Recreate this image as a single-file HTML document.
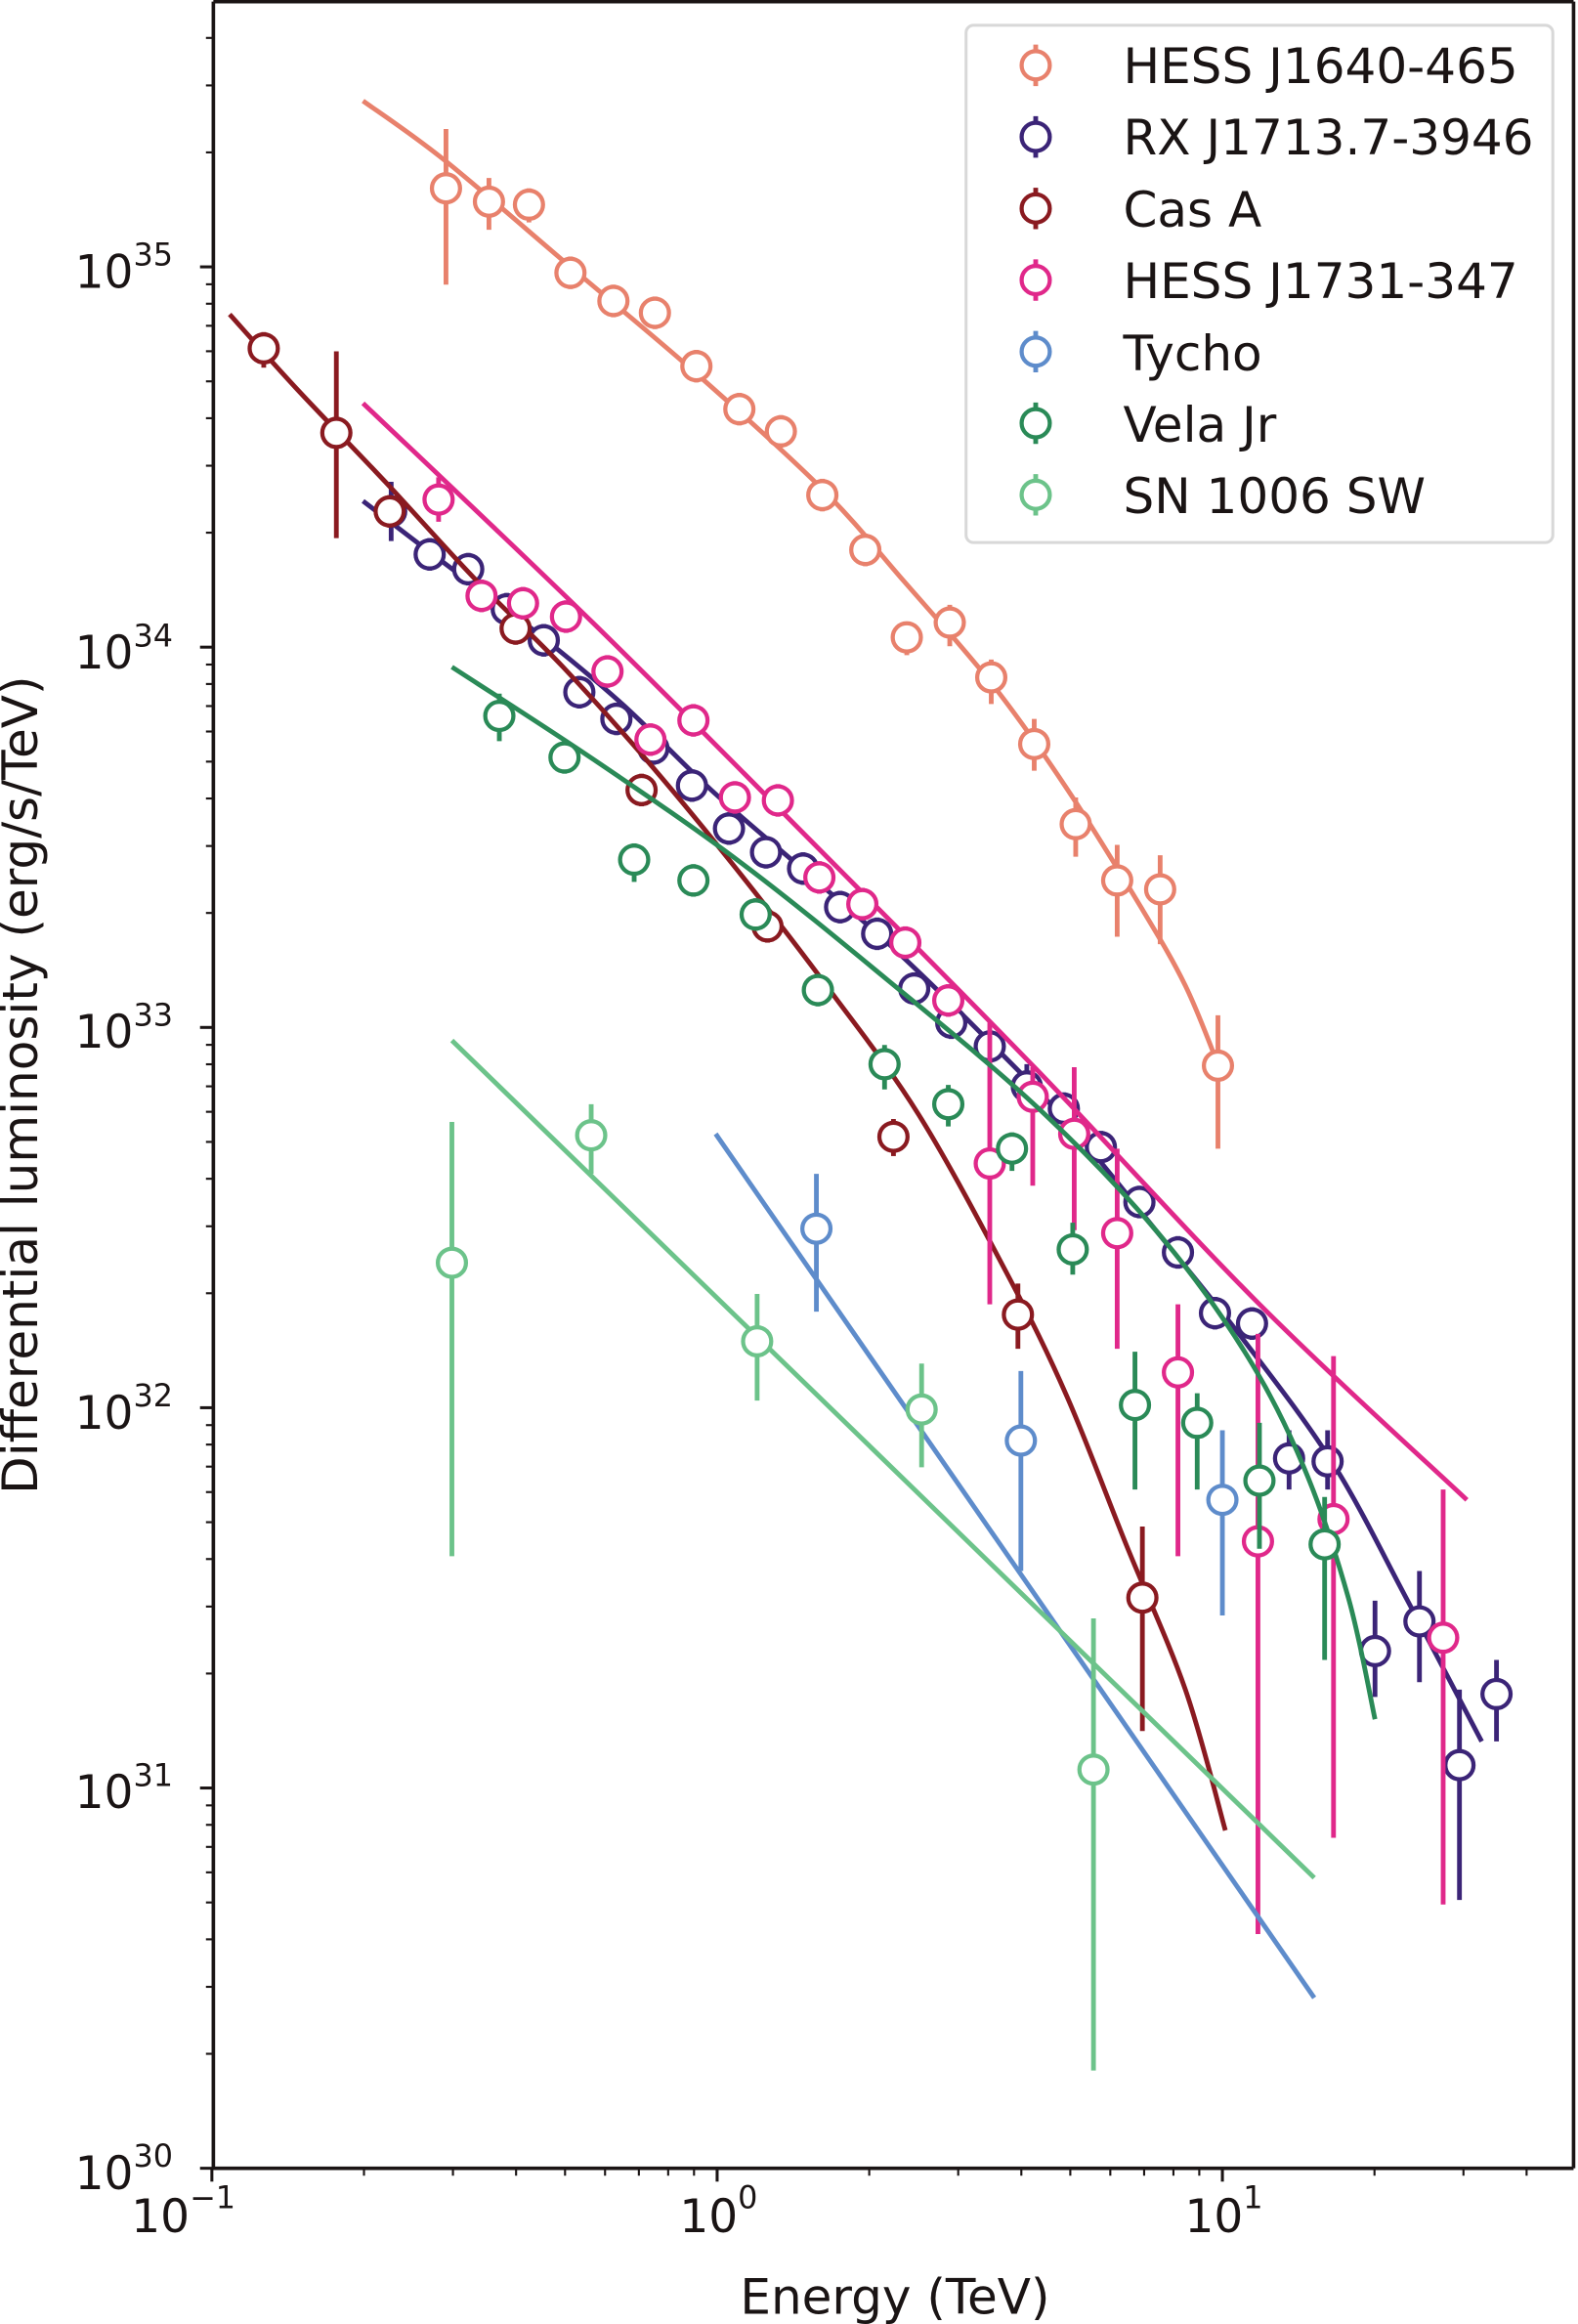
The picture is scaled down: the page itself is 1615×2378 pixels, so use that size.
<!DOCTYPE html>
<html><head><meta charset="utf-8"><style>
html,body{margin:0;padding:0;background:#fff;}
svg{display:block;}
text{font-family:"DejaVu Sans","Liberation Sans",sans-serif;fill:#1a1414;}
</style></head><body>
<svg id="s" width="1615" height="2378" viewBox="0 0 1065 1568" xmlns="http://www.w3.org/2000/svg">
<rect width="1065" height="1568" fill="#fff"/>
<g id="plot"></g>
<g id="axes" stroke="#1a1414" fill="none"></g>
<g font-size="31">
<text x="128" y="1506" text-anchor="end">10</text><text x="128" y="1490" font-size="21">−1</text>
<text x="498" y="1506" text-anchor="end">10</text><text x="498" y="1490" font-size="21">0</text>
<text x="839" y="1506" text-anchor="end">10</text><text x="839" y="1490" font-size="21">1</text>
<text x="90" y="194" text-anchor="end">10</text><text x="90" y="179" font-size="21">35</text>
<text x="90" y="451" text-anchor="end">10</text><text x="90" y="436" font-size="21">34</text>
<text x="90" y="707" text-anchor="end">10</text><text x="90" y="692" font-size="21">33</text>
<text x="90" y="964" text-anchor="end">10</text><text x="90" y="949" font-size="21">32</text>
<text x="90" y="1220" text-anchor="end">10</text><text x="90" y="1205" font-size="21">31</text>
<text x="90" y="1477" text-anchor="end">10</text><text x="90" y="1462" font-size="21">30</text>
</g>
<g font-size="33">
<text x="604" y="1561" text-anchor="middle">Energy (TeV)</text>
<text transform="translate(25,732) rotate(-90)" text-anchor="middle">Differential luminosity (erg/s/TeV)</text>
</g>
<rect x="652" y="17" width="396" height="349" rx="5" fill="#fff" stroke="#d8d8d8" stroke-width="2"/>
<g id="leg"></g>
<g font-size="33">
<text x="758" y="56">HESS J1640-465</text>
<text x="758" y="104">RX J1713.7-3946</text>
<text x="758" y="153">Cas A</text>
<text x="758" y="201">HESS J1731-347</text>
<text x="758" y="250">Tycho</text>
<text x="758" y="298">Vela Jr</text>
<text x="758" y="346">SN 1006 SW</text>
</g>
</svg>
<script>
var NS="http://www.w3.org/2000/svg";
function el(p,t,a){var e=document.createElementNS(NS,t);for(var k in a)e.setAttribute(k,a[k]);p.appendChild(e);return e;}
var plot=document.getElementById('plot'),axes=document.getElementById('axes'),leg=document.getElementById('leg');
var S=[
{c:"#e8816c",curve:[[245,68],[300,108],[385,180],[470,252],[555,330],[610,392],[670,462],[720,532],[770,612],[800,665],[822,718]],
 pts:[[301,127,87,192],[330,136,120,155],[357,138,127,150],[385,184],[414,203],[442,211],[470,247],[499,276],[527,291],[555,334],[584,371],[612,430,420,442],[641,420,408,436],[669,457,445,475],[698,502,485,520],[726,556,538,578],[754,594,570,632],[783,600,577,637],[822,719,685,775]]},
{c:"#3b2477",curve:[[245,338],[300,380],[360,425],[420,475],[480,533],[540,585],[600,637],[660,695],[720,757],[780,830],[840,905],[900,988],[950,1080],[1000,1175]],
 pts:[[264,345,325,365],[290,374],[316,384],[342,411],[367,432],[391,467],[416,485],[441,505],[467,530],[492,559],[517,575],[542,586],[567,612],[592,630],[617,667],[642,690],[668,706],[693,733,718,748],[718,748],[743,774],[769,811],[795,845],[820,886],[845,893],[870,984,965,1005],[896,986,965,1005],[928,1114,1080,1145],[958,1094,1060,1135],[985,1191,1140,1282],[1010,1143,1120,1175]]},
{c:"#8a1a20",curve:[[155,212],[200,262],[260,325],[320,390],[380,450],[440,517],[500,590],[560,668],[620,752],[680,860],[720,942],[760,1042],[800,1140],[827,1235]],
 pts:[[178,235,224,248],[227,292,237,363],[263,345],[348,424],[433,533],[518,625],[603,767,755,780],[687,887,866,910],[771,1078,1030,1168]]},
{c:"#e0288a",curve:[[245,272],[400,420],[550,570],[700,722],[850,880],[990,1012]],
 pts:[[296,337,322,352],[325,402],[353,407],[382,416],[410,453],[439,499],[468,486],[496,538],[525,540],[553,592],[582,610],[611,636],[640,675],[668,785,690,880],[697,740,720,800],[725,765,720,830],[754,832,775,910],[795,926,880,1050],[849,1040,900,1305],[900,1025,915,1240],[974,1105,1005,1285]]},
{c:"#5e8ccb",curve:[[483,765],[887,1348]],pts:[[551,829,792,885],[689,972,925,1060],[825,1012,965,1090]]},
{c:"#2a8a57",curve:[[305,450],[400,512],[500,582],[600,662],[700,747],[780,830],[840,912],[880,990],[910,1078],[928,1160]],
 pts:[[337,483,468,500],[381,511],[428,580,569,595],[468,594],[510,617],[552,668],[597,718,705,735],[640,745,732,760],[683,775,764,790],[724,843,825,860],[766,948,912,1005],[808,960,940,1005],[850,999,960,1045],[894,1042,1010,1120]]},
{c:"#6cc38a",curve:[[305,702],[887,1267]],pts:[[305,852,757,1050],[399,766,745,792],[511,905,873,945],[622,951,920,990],[738,1194,1092,1397]]}
];
function smooth(P){
 if(P.length<3)return "M"+P.map(function(p){return p.join(",")}).join(" L");
 var d="M"+P[0][0]+","+P[0][1];
 for(var i=0;i<P.length-1;i++){
  var p0=P[i-1]||P[i],p1=P[i],p2=P[i+1],p3=P[i+2]||P[i+1];
  var c1x=p1[0]+(p2[0]-p0[0])/6,c1y=p1[1]+(p2[1]-p0[1])/6;
  var c2x=p2[0]-(p3[0]-p1[0])/6,c2y=p2[1]-(p3[1]-p1[1])/6;
  d+=" C"+c1x+","+c1y+" "+c2x+","+c2y+" "+p2[0]+","+p2[1];
 }
 return d;
}
S.forEach(function(s,i){
 el(plot,"path",{d:smooth(s.curve),stroke:s.c,"stroke-width":3.2,fill:"none","stroke-linejoin":"round"});
 s.pts.forEach(function(p){
  var t=p.length>2?p[2]:p[1]-11,b=p.length>2?p[3]:p[1]+11;
  el(plot,"line",{x1:p[0],x2:p[0],y1:t,y2:b,stroke:s.c,"stroke-width":3.2});
  el(plot,"circle",{cx:p[0],cy:p[1],r:9.5,fill:"#fff",stroke:s.c,"stroke-width":2.8});
 });
 var y=44+i*48.3;
 el(leg,"line",{x1:699,x2:699,y1:y-14,y2:y+14,stroke:s.c,"stroke-width":3.2});
 el(leg,"circle",{cx:699,cy:y,r:9.5,fill:"#fff",stroke:s.c,"stroke-width":2.8});
});
el(axes,"path",{d:"M144,1 L144,1463 L1062,1463","stroke-width":2.4});
el(axes,"line",{x1:144,x2:1062,y1:1,y2:1,"stroke-width":2.4});
el(axes,"line",{x1:1062,x2:1062,y1:1,y2:1463,"stroke-width":2.4});
for(var dc=-1;dc<=1;dc++){for(var k=1;k<10;k++){var x=484+341*(dc+Math.log10(k));if(x>1062)break;
 el(axes,"line",{x1:x,x2:x,y1:1463,y2:1463+(k==1?9:5),"stroke-width":k==1?2:1.4});}}
for(var e=30;e<=35;e++){for(var k=1;k<10;k++){var y=1463-256.6*(e-30+Math.log10(k));if(y<1)break;
 el(axes,"line",{x1:144,x2:144-(k==1?9:5),y1:y,y2:y,"stroke-width":k==1?2:1.4});}}
</script>
</body></html>
